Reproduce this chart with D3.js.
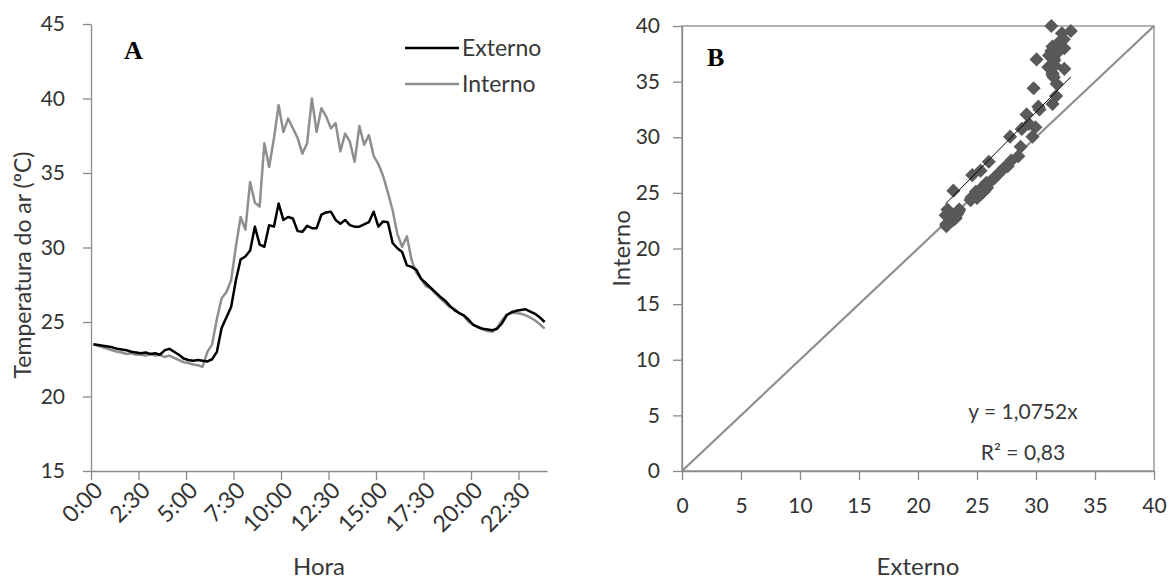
<!DOCTYPE html>
<html>
<head>
<meta charset="utf-8">
<script src="https://cdn.jsdelivr.net/npm/d3@7"></script>
<style>
  html, body { margin: 0; padding: 0; background: #fff; }
  svg { display: block; }
  .tick text { font-family: Lato, "Open Sans", sans-serif; fill: #333; }
</style>
</head>
<body>
<svg id="chart" width="1172" height="579"></svg>
<script>
// ---------------- DATA ----------------
const times = [
  "0:00","0:15","0:30","0:45","1:00","1:15","1:30","1:45","2:00","2:15","2:30","2:45",
  "3:00","3:15","3:30","3:45","4:00","4:15","4:30","4:45","5:00","5:15","5:30","5:45",
  "6:00","6:15","6:30","6:45","7:00","7:15","7:30","7:45","8:00","8:15","8:30","8:45",
  "9:00","9:15","9:30","9:45","10:00","10:15","10:30","10:45","11:00","11:15","11:30","11:45",
  "12:00","12:15","12:30","12:45","13:00","13:15","13:30","13:45","14:00","14:15","14:30","14:45",
  "15:00","15:15","15:30","15:45","16:00","16:15","16:30","16:45","17:00","17:15","17:30","17:45",
  "18:00","18:15","18:30","18:45","19:00","19:15","19:30","19:45","20:00","20:15","20:30","20:45",
  "21:00","21:15","21:30","21:45","22:00","22:15","22:30","22:45","23:00","23:15","23:30","23:45"
];
const externo = [
  23.5, 23.45, 23.4, 23.35, 23.3, 23.2, 23.15, 23.1, 23.0, 22.95, 22.9, 22.95,
  22.85, 22.9, 22.8, 23.1, 23.2, 23.0, 22.8, 22.55, 22.45, 22.4, 22.45, 22.4,
  22.35, 22.5, 23.0, 24.6, 25.3, 26.0, 27.8, 29.2, 29.4, 29.8, 31.4, 30.2,
  30.05, 31.5, 31.4, 32.95, 31.85, 32.05, 31.95, 31.1, 31.05, 31.45, 31.3, 31.3,
  32.2, 32.35, 32.4, 31.85, 31.6, 31.85, 31.5, 31.4, 31.4, 31.55, 31.7, 32.4,
  31.4, 31.75, 31.7, 30.3, 29.95, 29.7, 28.8, 28.7, 28.5, 27.9, 27.6, 27.3,
  27.0, 26.7, 26.45, 26.1, 25.8, 25.6, 25.45, 25.15, 24.8, 24.65, 24.55, 24.5,
  24.45, 24.55, 24.9, 25.45, 25.65, 25.75, 25.8, 25.85, 25.7, 25.55, 25.3, 25.0
];
const interno = [
  23.5, 23.4, 23.3, 23.2, 23.1, 23.0, 22.95, 22.85, 22.9, 22.8, 22.8, 22.75,
  22.85, 22.75, 22.8, 22.65, 22.75, 22.6, 22.45, 22.3, 22.25, 22.15, 22.1, 22.0,
  23.0, 23.5, 25.2, 26.6, 27.0, 27.8, 30.05, 32.05, 31.2, 34.4, 33.0, 32.75,
  37.0, 35.4, 37.3, 39.55, 37.75, 38.65, 38.0, 37.35, 36.3, 37.0, 40.0, 37.75,
  39.35, 38.8, 38.0, 38.35, 36.45, 37.65, 37.1, 35.75, 38.15, 36.9, 37.55, 36.15,
  35.6, 34.8, 33.7, 32.5, 30.9, 30.05, 30.75, 29.15, 28.3, 27.9, 27.4, 27.25,
  26.9, 26.6, 26.3, 26.0, 25.9, 25.6, 25.4, 25.0, 24.8, 24.65, 24.5, 24.4,
  24.35, 24.6, 25.1, 25.5, 25.6, 25.6, 25.55, 25.45, 25.3, 25.1, 24.85, 24.55
];
const hourTickLabels = ["0:00","2:30","5:00","7:30","10:00","12:30","15:00","17:30","20:00","22:30"];
const tempTicks = [15, 20, 25, 30, 35, 40, 45];
const scatterTicks = [0, 5, 10, 15, 20, 25, 30, 35, 40];
const seriesNames = ["Externo", "Interno"];
const slope = 1.0752;
const equationText = "y = 1,0752x";
const r2Text = "R² = 0,83";

// ---------------- SETUP ----------------
const svg = d3.select("#chart");
const axisColor = "#8a8a8a";
const textColor = "#383838";
const font = "Lato, 'Open Sans', sans-serif";

// ===== Panel A =====
const xA = d3.scaleLinear().domain([0, times.length]).range([91, 547]);
const yA = d3.scaleLinear().domain([15, 45]).range([471, 24]);
const gA = svg.append("g");

const tickIdx = hourTickLabels.map(l => times.indexOf(l));

const yAxisA = gA.append("g").attr("transform", `translate(${xA(0)},0)`)
  .call(d3.axisLeft(yA).tickValues(tempTicks).tickSize(8).tickSizeOuter(0).tickPadding(18));
const xAxisA = gA.append("g").attr("transform", `translate(0,${yA(15)})`)
  .call(d3.axisBottom(xA).tickValues(tickIdx).tickSize(9).tickSizeOuter(0)
    .tickFormat((d, i) => hourTickLabels[i]));

[yAxisA, xAxisA].forEach(ax => {
  ax.selectAll("path.domain").attr("stroke", axisColor).attr("stroke-width", 1.3);
  ax.selectAll(".tick line").attr("stroke", axisColor).attr("stroke-width", 1.3);
});
yAxisA.selectAll(".tick text").attr("font-size", 21).attr("fill", textColor);
xAxisA.selectAll(".tick text")
  .attr("font-size", 23).attr("fill", textColor)
  .attr("text-anchor", "end")
  .attr("transform", "translate(7,15) rotate(-45)")
  .attr("y", 0).attr("dy", "0.35em").attr("x", 0);

const lineA = (vals) => d3.line()
  .x((d, i) => xA(i + 0.5))
  .y(d => yA(d))(vals);

gA.append("path").attr("d", lineA(interno)).attr("fill", "none")
  .attr("stroke", "#8f8f8f").attr("stroke-width", 2.5).attr("stroke-linejoin", "round");
gA.append("path").attr("d", lineA(externo)).attr("fill", "none")
  .attr("stroke", "#000").attr("stroke-width", 2.5).attr("stroke-linejoin", "round");

// legend
const legColors = ["#000", "#8f8f8f"];
seriesNames.forEach((n, k) => {
  const ly = 48 + k * 36;
  gA.append("line").attr("x1", 405).attr("x2", 459).attr("y1", ly).attr("y2", ly)
    .attr("stroke", legColors[k]).attr("stroke-width", 2.5);
  gA.append("text").attr("x", 462).attr("y", ly).attr("dy", "0.35em")
    .attr("font-family", font).attr("font-size", 23).attr("fill", textColor).text(n);
});

gA.append("text").attr("x", 124).attr("y", 59)
  .attr("font-family", "'Liberation Serif', 'Times New Roman', serif")
  .attr("font-weight", "bold").attr("font-size", 26).attr("fill", "#000").text("A");

gA.append("text").attr("x", 319).attr("y", 575).attr("text-anchor", "middle")
  .attr("font-family", font).attr("font-size", 24).attr("fill", textColor).text("Hora");

gA.append("text").attr("transform", `translate(31,265) rotate(-90)`)
  .attr("text-anchor", "middle")
  .attr("font-family", font).attr("font-size", 23).attr("fill", textColor)
  .text("Temperatura do ar (ºC)");

// ===== Panel B =====
const xB = d3.scaleLinear().domain([0, 40]).range([682, 1154]);
const yB = d3.scaleLinear().domain([0, 40]).range([471, 26]);
const gB = svg.append("g");

gB.append("rect").attr("x", xB(0)).attr("y", yB(40))
  .attr("width", xB(40) - xB(0)).attr("height", yB(0) - yB(40))
  .attr("fill", "none").attr("stroke", axisColor).attr("stroke-width", 1.3);

const yAxisB = gB.append("g").attr("transform", `translate(${xB(0)},0)`)
  .call(d3.axisLeft(yB).tickValues(scatterTicks).tickSize(9).tickSizeOuter(0).tickPadding(13));
const xAxisB = gB.append("g").attr("transform", `translate(0,${yB(0)})`)
  .call(d3.axisBottom(xB).tickValues(scatterTicks).tickSize(9).tickSizeOuter(0).tickPadding(18));
[yAxisB, xAxisB].forEach(ax => {
  ax.selectAll("path.domain").attr("stroke", axisColor).attr("stroke-width", 1.3);
  ax.selectAll(".tick line").attr("stroke", axisColor).attr("stroke-width", 1.3);
  ax.selectAll(".tick text").attr("font-size", 21).attr("fill", textColor);
});

// 1:1 line
gB.append("line").attr("x1", xB(0)).attr("y1", yB(0)).attr("x2", xB(40)).attr("y2", yB(40))
  .attr("stroke", "#8f8f8f").attr("stroke-width", 2.2);

// scatter points (Externo vs Interno)
const pts = externo.map((e, i) => [e, interno[i]]);
gB.selectAll("path.pt").data(pts).enter().append("path")
  .attr("class", "pt")
  .attr("d", d3.symbol().type(d3.symbolSquare).size(100))
  .attr("transform", d => `translate(${xB(d[0])},${yB(d[1])}) rotate(45)`)
  .attr("fill", "#595959");

// trend line
const xmin = d3.min(externo), xmax = d3.max(externo);
gB.append("line").attr("x1", xB(xmin)).attr("y1", yB(slope * xmin))
  .attr("x2", xB(xmax)).attr("y2", yB(slope * xmax))
  .attr("stroke", "#000").attr("stroke-width", 1);

gB.append("text").attr("x", 1023).attr("y", 419).attr("text-anchor", "middle")
  .attr("font-family", font).attr("font-size", 21).attr("fill", textColor).text(equationText);
gB.append("text").attr("x", 1023).attr("y", 460).attr("text-anchor", "middle")
  .attr("font-family", font).attr("font-size", 21).attr("fill", textColor).text(r2Text);

gB.append("text").attr("x", 707).attr("y", 66)
  .attr("font-family", "'Liberation Serif', 'Times New Roman', serif")
  .attr("font-weight", "bold").attr("font-size", 26).attr("fill", "#000").text("B");

gB.append("text").attr("x", 918).attr("y", 575).attr("text-anchor", "middle")
  .attr("font-family", font).attr("font-size", 24).attr("fill", textColor).text(seriesNames[0]);

gB.append("text").attr("transform", `translate(630,${(yB(0) + yB(40)) / 2}) rotate(-90)`)
  .attr("text-anchor", "middle")
  .attr("font-family", font).attr("font-size", 24).attr("fill", textColor).text(seriesNames[1]);
</script>
</body>
</html>
